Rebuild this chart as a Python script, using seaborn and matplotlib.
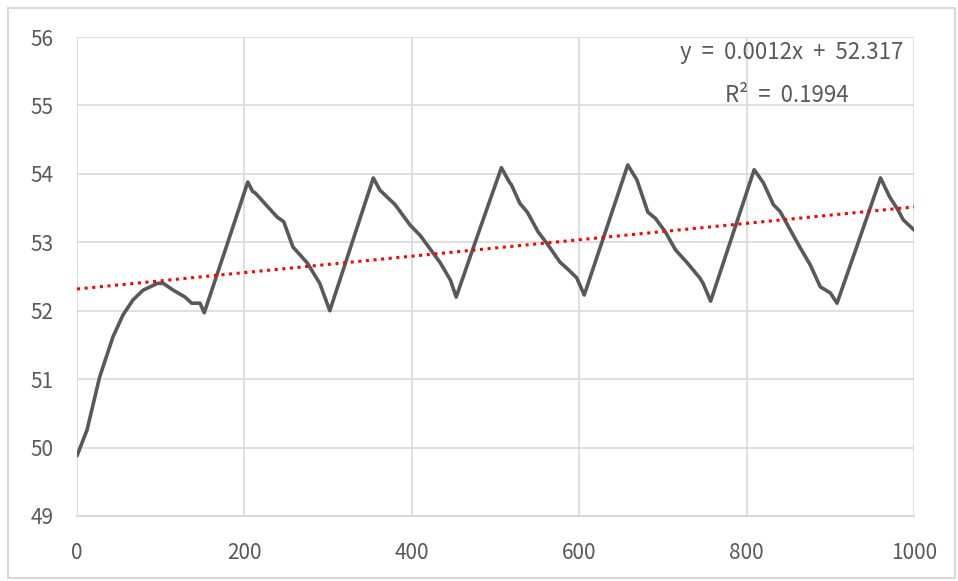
"""Sawtooth series with linear trendline, Excel-style."""

import matplotlib.pyplot as plt
import numpy as np
import pandas as pd
import seaborn as sns
from matplotlib.patches import Rectangle

_LINE_COLOR = "#595959"
_TREND_COLOR = "#FF0000"
_GRID_COLOR = "#D9D9D9"
_TEXT_COLOR = "#595959"

# values
x_vals = [
    0, 12, 27, 43, 55, 67, 79, 96, 103, 115, 129, 137, 147, 152,
    178, 204, 210, 213, 239, 247, 258, 275, 290, 302,
    328, 354, 362, 380, 398, 410, 422, 434, 446, 453,
    480, 507, 517, 519, 529, 538, 551, 561, 577, 587, 597, 606,
    632, 658, 669, 682, 691, 703, 715, 729, 744, 748, 757,
    783, 809, 820, 832, 840, 854, 864, 876, 888, 900, 908,
    934, 960, 971, 981, 987, 1000,
]
y_vals = [
    49.88, 50.26, 51.03, 51.62, 51.94, 52.16, 52.30, 52.40, 52.40, 52.30, 52.20, 52.11, 52.11, 51.97,
    52.92, 53.88, 53.74, 53.72, 53.37, 53.30, 52.93, 52.70, 52.40, 52.00,
    52.97, 53.94, 53.76, 53.55, 53.25, 53.10, 52.90, 52.70, 52.45, 52.20,
    53.15, 54.09, 53.87, 53.84, 53.57, 53.44, 53.15, 52.99, 52.71, 52.60, 52.48, 52.23,
    53.18, 54.13, 53.91, 53.44, 53.35, 53.15, 52.89, 52.70, 52.48, 52.40, 52.14,
    53.10, 54.06, 53.87, 53.55, 53.45, 53.14, 52.92, 52.67, 52.35, 52.26, 52.11,
    53.02, 53.94, 53.66, 53.47, 53.33, 53.18,
]

trend_slope = 0.0012
trend_intercept = 52.317
r_squared = 0.1994

x_ticks = [0, 200, 400, 600, 800, 1000]
y_ticks = [49, 50, 51, 52, 53, 54, 55, 56]

sns.set_style("white")
plt.rcParams["font.family"] = ["Noto Sans CJK KR", "DejaVu Sans"]

df = pd.DataFrame({"x": x_vals, "y": y_vals})

fig = plt.figure(figsize=(9.58, 5.81), dpi=100)
ax = fig.add_axes([0.0804, 0.1119, 0.8737, 0.8244])

# outer chart border
fig.patches.append(
    Rectangle((8 / 958, 3 / 581), 947 / 958, 570 / 581, transform=fig.transFigure,
              fill=False, edgecolor=_GRID_COLOR, linewidth=1.5)
)

sns.lineplot(data=df, x="x", y="y", ax=ax, color=_LINE_COLOR, linewidth=2.6, zorder=3)

trend_x = np.array([x_ticks[0], x_ticks[-1]])
ax.plot(trend_x, trend_slope * trend_x + trend_intercept, color=_TREND_COLOR,
        linewidth=2.2, linestyle=(0, (1, 1.5)), zorder=4)

ax.set_xlim(x_ticks[0], x_ticks[-1])
ax.set_ylim(y_ticks[0], y_ticks[-1])
ax.set_xticks(x_ticks)
ax.set_yticks(y_ticks)
ax.set_xlabel("")
ax.set_ylabel("")
ax.grid(True, color=_GRID_COLOR, linewidth=1.2)
for side in ["top", "right", "left"]:
    ax.spines[side].set_visible(False)
ax.spines["bottom"].set_color(_GRID_COLOR)
ax.spines["bottom"].set_linewidth(1.5)
ax.tick_params(axis="x", length=0, pad=19, labelsize=15, labelcolor=_TEXT_COLOR)
ax.tick_params(axis="y", length=0, pad=17, labelsize=15, labelcolor=_TEXT_COLOR)

ax.text(987, 55.77, f"y  =  {trend_slope}x  +  {trend_intercept}", ha="right", va="center",
        fontsize=16, color=_TEXT_COLOR)
ax.text(848, 55.15, f"R²  =  {r_squared}", ha="center", va="center",
        fontsize=16, color=_TEXT_COLOR)

fig.savefig("out.png", dpi=100)
plt.close(fig)
